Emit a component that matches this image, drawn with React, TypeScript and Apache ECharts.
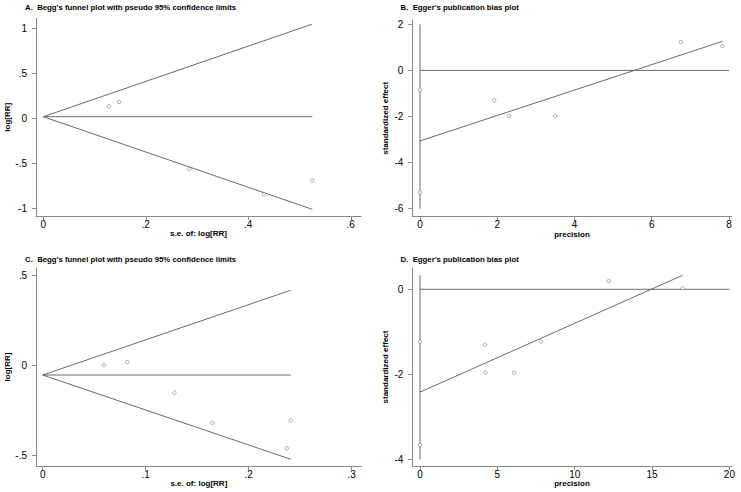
import React, { useEffect, useRef } from "react";
import * as echarts from "echarts";

// Panel A: Begg's funnel plot (study 1)
const seA = [0.128, 0.148, 0.285, 0.431, 0.525];
const logRRA = [0.137, 0.185, -0.563, -0.841, -0.689];
const pooledA = 0.02;
const seMaxA = 0.525;
const upperEndA = 1.049;
const lowerEndA = -1.009;
const xTicksA = [0, 0.2, 0.4, 0.6];
const yTicksA = [-1, -0.5, 0, 0.5, 1];

// Panel B: Egger's plot (study 1)
const precisionB = [7.83, 6.75, 3.5, 2.31, 1.92];
const effectB = [1.06, 1.23, -1.98, -1.97, -1.3];
const interceptCIB = [-5.29, -0.84];
const regStartB = [0, -3.06];
const regEndB = [7.83, 1.26];
const vRangeB = [-6, 2];
const hRangeB = [0, 8];
const xTicksB = [0, 2, 4, 6, 8];
const yTicksB = [-6, -4, -2, 0, 2];

// Panel C: Begg's funnel plot (study 2)
const seC = [0.0595, 0.0822, 0.1278, 0.1647, 0.2369, 0.2408];
const logRRC = [0.002, 0.018, -0.152, -0.319, -0.461, -0.306];
const pooledC = -0.054;
const seMaxC = 0.2408;
const upperEndC = 0.417;
const lowerEndC = -0.522;
const xTicksC = [0, 0.1, 0.2, 0.3];
const yTicksC = [-0.5, 0, 0.5];

// Panel D: Egger's plot (study 2)
const precisionD = [16.98, 12.2, 7.82, 6.08, 4.24, 4.2];
const effectD = [0.023, 0.195, -1.23, -1.96, -1.96, -1.3];
const interceptCID = [-3.66, -1.24];
const regStartD = [0, -2.42];
const regEndD = [16.98, 0.33];
const vRangeD = [-4, 0.33];
const hRangeD = [0, 20];
const xTicksD = [0, 5, 10, 15, 20];
const yTicksD = [-4, -2, 0];

const titles = [
  "A.  Begg's funnel plot with pseudo 95% confidence limits",
  "B.  Egger's publication bias plot",
  "C.  Begg's funnel plot with pseudo 95% confidence limits",
  "D.  Egger's publication bias plot",
];

const FONT = "'Liberation Sans', Arial, sans-serif";
const LINE = "#6a6a6a";
const AXIS = "#8a8a8a";

const fmt = (v: number) => {
  let s = String(Math.round(v * 1000) / 1000);
  s = s.replace(/^0\./, ".").replace(/^-0\./, "-.");
  return s;
};

function makeAxis(gridIndex: number, min: number, max: number, ticks: number[], name: string, isY: boolean) {
  return {
    type: "value",
    gridIndex,
    min,
    max,
    name,
    nameLocation: "middle",
    nameGap: isY ? 23 : 13,
    nameTextStyle: { fontFamily: FONT, fontSize: 8, color: "#000", fontWeight: "bold" },
    axisLine: { show: true, onZero: false, lineStyle: { color: AXIS, width: 1 } },
    axisTick: { show: true, length: 4, lineStyle: { color: AXIS }, customValues: ticks },
    axisLabel: {
      show: true,
      customValues: ticks,
      formatter: fmt,
      fontFamily: FONT,
      fontSize: 10,
      color: "#000",
      margin: isY ? 9 : 3,
    },
    splitLine: { show: false },
  };
}

function lineSeries(xi: number, data: number[][]) {
  return {
    type: "line",
    xAxisIndex: xi,
    yAxisIndex: xi,
    data,
    symbol: "none",
    lineStyle: { color: LINE, width: 1 },
    silent: true,
  };
}

function pointSeries(xi: number, xs: number[], ys: number[]) {
  return {
    type: "scatter",
    xAxisIndex: xi,
    yAxisIndex: xi,
    data: xs.map((x, i) => [x, ys[i]]),
    symbol: "circle",
    symbolSize: 3.5,
    itemStyle: { color: "#ffffff", borderColor: "#7a7a7a", borderWidth: 0.8 },
    z: 5,
  };
}

export default function App() {
  const ref = useRef<HTMLDivElement>(null);
  useEffect(() => {
    if (!ref.current) return;
    const chart = echarts.init(ref.current, undefined, { renderer: "svg" });
    const grids = [
      { left: 36, top: 18.5, width: 325, height: 197.5 },
      { left: 412.3, top: 20, width: 319.4, height: 196.7 },
      { left: 36, top: 268, width: 325.7, height: 198 },
      { left: 412.3, top: 268, width: 319.4, height: 198 },
    ];
    const option: any = {
      animation: false,
      backgroundColor: "#ffffff",
      grid: grids,
      xAxis: [
        makeAxis(0, -0.0142, 0.62, xTicksA, "s.e. of: log[RR]", false),
        makeAxis(1, -0.199, 8.07, xTicksB, "precision", false),
        makeAxis(2, -0.0065, 0.3097, xTicksC, "s.e. of: log[RR]", false),
        makeAxis(3, -0.498, 20.15, xTicksD, "precision", false),
      ],
      yAxis: [
        makeAxis(0, -1.083, 1.111, yTicksA, "log[RR]", true),
        makeAxis(1, -6.347, 2.187, yTicksB, "standardized effect", true),
        makeAxis(2, -0.5594, 0.5406, yTicksC, "log[RR]", true),
        makeAxis(3, -4.158, 0.501, yTicksD, "standardized effect", true),
      ],
      graphic: titles.map((t, i) => ({
        type: "text",
        left: i % 2 === 0 ? 25 : 400.5,
        top: i < 2 ? 3 : 255,
        style: { text: t, fontFamily: FONT, fontSize: 7.8, fontWeight: "bold", fill: "#000" },
      })),
      series: [
        // A
        lineSeries(0, [[0, pooledA], [seMaxA, upperEndA]]),
        lineSeries(0, [[0, pooledA], [seMaxA, lowerEndA]]),
        lineSeries(0, [[0, pooledA], [seMaxA, pooledA]]),
        pointSeries(0, seA, logRRA),
        // B
        lineSeries(1, [[0, vRangeB[0]], [0, vRangeB[1]]]),
        lineSeries(1, [[hRangeB[0], 0], [hRangeB[1], 0]]),
        lineSeries(1, [regStartB, regEndB]),
        pointSeries(1, precisionB, effectB),
        pointSeries(1, [0, 0], interceptCIB),
        // C
        lineSeries(2, [[0, pooledC], [seMaxC, upperEndC]]),
        lineSeries(2, [[0, pooledC], [seMaxC, lowerEndC]]),
        lineSeries(2, [[0, pooledC], [seMaxC, pooledC]]),
        pointSeries(2, seC, logRRC),
        // D
        lineSeries(3, [[0, vRangeD[0]], [0, vRangeD[1]]]),
        lineSeries(3, [[hRangeD[0], 0], [hRangeD[1], 0]]),
        lineSeries(3, [regStartD, regEndD]),
        pointSeries(3, precisionD, effectD),
        pointSeries(3, [0, 0], interceptCID),
      ],
    };
    chart.setOption(option);
    return () => chart.dispose();
  }, []);
  return (
    <div
      ref={ref}
      style={{ position: "fixed", left: 0, top: 0, width: 741, height: 492, background: "#fff" }}
    />
  );
}
